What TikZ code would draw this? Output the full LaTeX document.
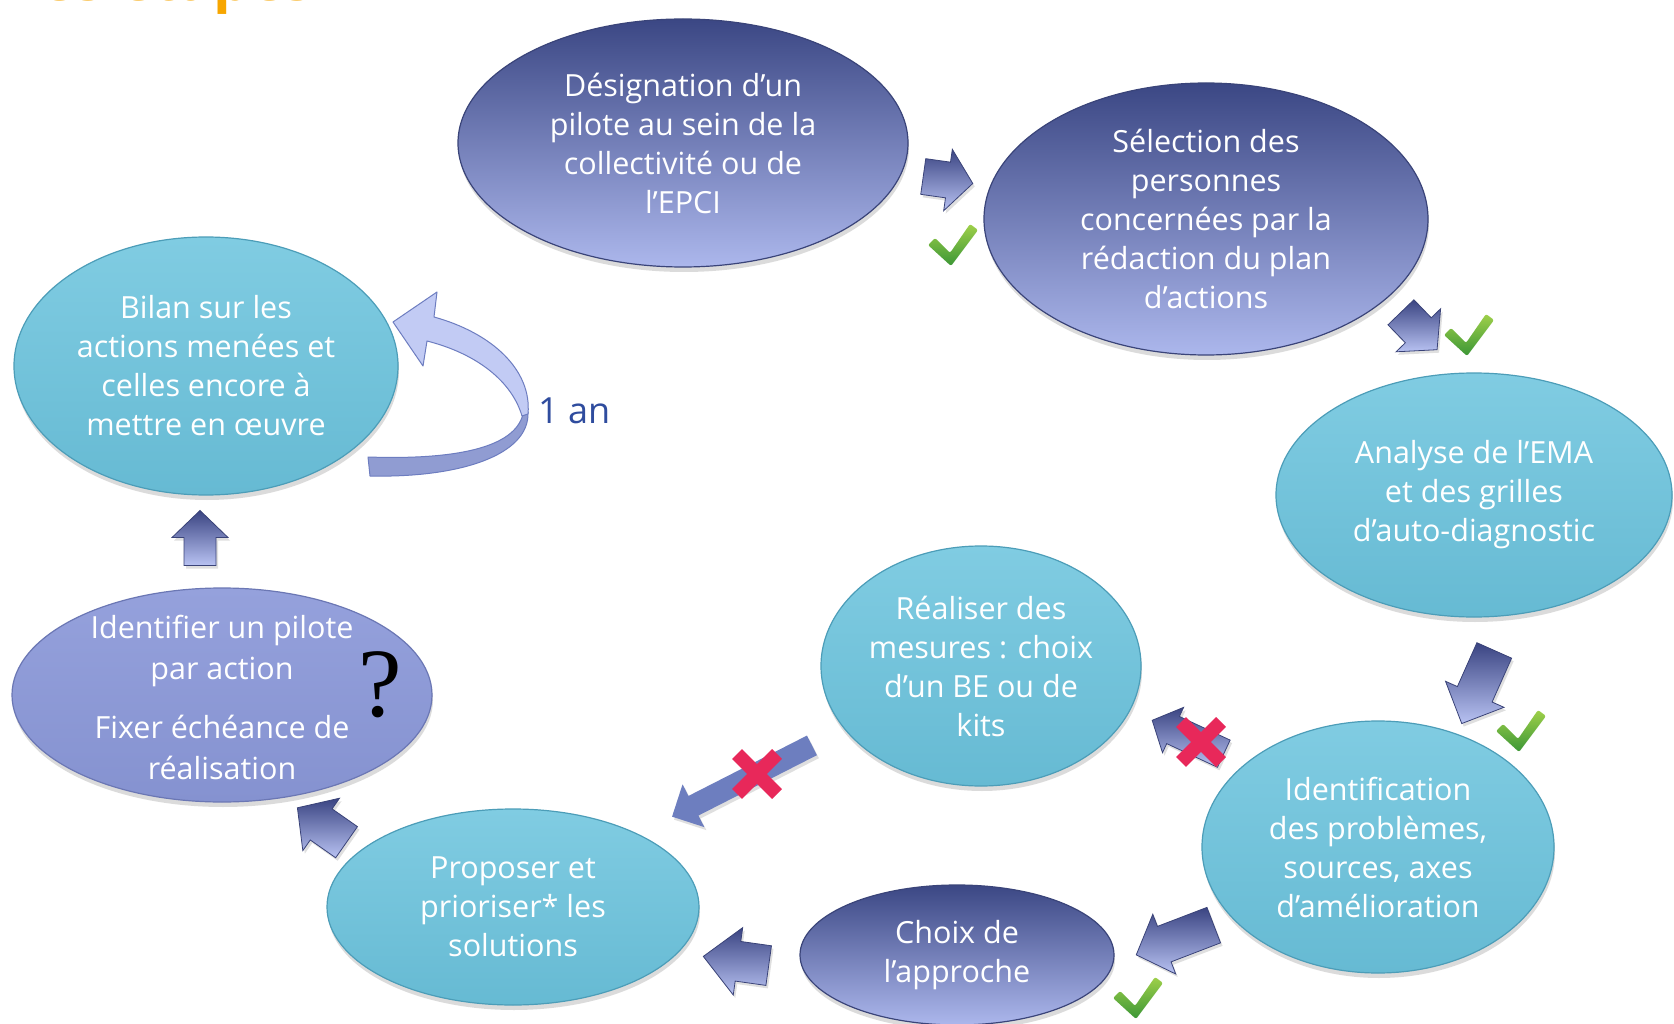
\documentclass[tikz,border=0pt]{standalone}
\usepackage{fontspec}
\setmainfont{Open Sans}
\newfontfamily\serifq{Liberation Serif}
\usetikzlibrary{shapes.geometric,shadows}

\definecolor{pTop}{HTML}{3B4784}
\definecolor{pMid}{HTML}{6F7DC0}
\definecolor{pBot}{HTML}{ACB7EC}
\definecolor{pEdge}{HTML}{3A4479}
\definecolor{tTop}{HTML}{80CCE2}
\definecolor{tBot}{HTML}{66BAD3}
\definecolor{tEdge}{HTML}{4C9DB8}
\definecolor{lTop}{HTML}{95A1DC}
\definecolor{lBot}{HTML}{8592D0}
\definecolor{lEdge}{HTML}{6B77B4}
\definecolor{aTop}{HTML}{3A4482}
\definecolor{aBot}{HTML}{B8C2F2}
\definecolor{aEdge}{HTML}{3A4378}
\definecolor{flatA}{HTML}{6D7EBF}
\definecolor{cTop}{HTML}{9FD04A}
\definecolor{cBot}{HTML}{3B9636}
\definecolor{redX}{HTML}{E8285A}
\definecolor{anBlue}{HTML}{2F4C9E}
\definecolor{cvUp}{HTML}{C2CBF4}
\definecolor{cvLow}{HTML}{909CD2}
\definecolor{cvEdge}{HTML}{6D7DC0}
\definecolor{titleOr}{HTML}{F7A600}

\newcommand\blockarrow[8]{%
  \begin{scope}[shift={(#1,#2)},rotate=#3]
    \path[#8] ({-(#4)/2},-#5) -- ({(#4)/2-(#7)},-#5) -- ({(#4)/2-(#7)},-#6)
      -- ({(#4)/2},0) -- ({(#4)/2-(#7)},#6) -- ({(#4)/2-(#7)},#5)
      -- ({-(#4)/2},#5) -- cycle;
  \end{scope}}
\newcommand\greencheck[2]{%
  \path[checkstyle,shift={(#1,#2)}] (-22,-17) -- (-15,-24) -- (0,-9)
    -- (20,-38) -- (28,-32) -- (1,4) -- cycle;}

\tikzset{
  blobbase/.style={ellipse, inner sep=0pt,
    drop shadow={opacity=0.28, shadow xshift=1pt, shadow yshift=-5pt}},
  purpleblob/.style={blobbase, top color=pTop, middle color=pMid, bottom color=pBot,
    draw=pEdge, line width=1.2pt},
  tealblob/.style={blobbase, top color=tTop, bottom color=tBot,
    draw=tEdge, line width=1.2pt},
  lavblob/.style={blobbase, top color=lTop, bottom color=lBot,
    draw=lEdge, line width=1.2pt},
  steptext/.style={align=center, text=white, inner sep=0pt,
    font=\fontsize{30.5}{39}\selectfont},
  bevelarrow/.style={top color=aTop, bottom color=aBot, draw=aEdge, line width=0.8pt,
    drop shadow={opacity=0.25, shadow xshift=2pt, shadow yshift=-3pt}},
  flatarrow/.style={fill=flatA,
    drop shadow={opacity=0.25, shadow xshift=2pt, shadow yshift=-3pt}},
  checkstyle/.style={top color=cTop, bottom color=cBot, rounded corners=2pt},
  redx/.style={draw=redX, line width=14pt, line cap=butt},
  curvup/.style={fill=cvUp, draw=cvEdge, line width=1pt, line join=round},
  curvlow/.style={fill=cvLow, draw=cvEdge, line width=1pt, line join=round},
}

\begin{document}
\begin{tikzpicture}[x=1pt,y=-1pt]
\useasboundingbox (0,0) rectangle (1674,1024);
\clip (0,0) rectangle (1674,1024);
\fill[white] (0,0) rectangle (1674,1024);

% title (cut off at top, as in the reference)
\node[anchor=base west, inner sep=0pt, text=titleOr,
  font=\bfseries\fontsize{58}{58}\selectfont] (title) at (8,1) {Les étapes};

% ellipses
\node[purpleblob, minimum width=450, minimum height=248] (e1) at (683,143) {};
\node[purpleblob, minimum width=444, minimum height=272] (e2) at (1206,219) {};
\node[tealblob,   minimum width=396, minimum height=244] (e3) at (1474,495) {};
\node[tealblob,   minimum width=352, minimum height=252] (e4) at (1378,847) {};
\node[purpleblob, minimum width=314, minimum height=140] (e5) at (957,955) {};
\node[tealblob,   minimum width=320, minimum height=240] (e6) at (981,666) {};
\node[tealblob,   minimum width=372, minimum height=196] (e7) at (513,907) {};
\node[lavblob,    minimum width=420, minimum height=214] (e8) at (222,695) {};
\node[tealblob,   minimum width=384, minimum height=258] (e9) at (206,366) {};

% texts
\node[steptext] (t1) at (e1.center) {Désignation d’un\\pilote au sein de la\\collectivité ou de\\l’EPCI};
\node[steptext] (t2) at (e2.center) {Sélection des\\personnes\\concernées par la\\rédaction du plan\\d’actions};
\node[steptext] (t3) at (e3.center) {Analyse de l’EMA\\et des grilles\\d’auto-diagnostic};
\node[steptext] (t4) at (e4.center) {Identification\\des problèmes,\\sources, axes\\d’amélioration};
\node[steptext] (t5) at (e5.center) {Choix de\\l’approche};
\node[steptext] (t6) at (e6.center) {Réaliser des\\mesures : choix\\d’un BE ou de\\kits};
\node[steptext] (t7) at (e7.center) {Proposer et\\prioriser* les\\solutions};
\node[steptext, font=\fontsize{30.5}{41}\selectfont] (t8) at (222,697)
  {Identifier un pilote\\par action\\[18pt]Fixer échéance de\\réalisation};
\node[steptext] (t9) at (e9.center) {Bilan sur les\\actions menées et\\celles encore à\\mettre en œuvre};

\node[font=\serifq\fontsize{98}{98}\selectfont, inner sep=0pt] (q) at (380,685) {?};

% bevelled block arrows
\blockarrow{948}{180}{-8}{50}{18}{31}{25}{bevelarrow}
\blockarrow{1419}{331}{-46}{52}{18}{31}{27}{bevelarrow}
\blockarrow{1478}{687}{-114}{80}{19}{32}{32}{bevelarrow}
\blockarrow{1175}{940}{-159}{83}{19}{32}{30}{bevelarrow}
\blockarrow{736}{961}{172}{66}{20}{34}{35}{bevelarrow}
\blockarrow{322}{825}{145}{60}{19}{32}{29}{bevelarrow}
\blockarrow{200}{538}{90}{55}{16}{28}{27}{bevelarrow}
\blockarrow{1188}{737}{155}{79}{15}{25}{23}{bevelarrow}
\blockarrow{742}{781}{-153}{157}{11}{24}{24}{flatarrow}

% checks
\greencheck{950}{262}
\greencheck{1466}{352}
\greencheck{1518}{748}
\greencheck{1135}{1015}

% red crosses
\draw[redx] (1181,722) -- (1221,762) (1221,722) -- (1181,762);
\draw[redx] (737,754) -- (777,794) (777,754) -- (737,794);

% curved arrow "1 an"
\path[curvlow] (528,412) .. controls (530,455) and (460,478) .. (370,476)
  -- (368,457) .. controls (455,460) and (515,448) .. (523,414) -- cycle;
\path[curvup] (528,414) .. controls (532,370) and (492,333) .. (434,317)
  -- (437,292) -- (393,322) -- (423,366) -- (427,341)
  .. controls (478,354) and (512,382) .. (522,416) -- cycle;
\node[anchor=base west, inner sep=0pt, text=anBlue,
  font=\fontsize{36}{36}\selectfont] (an) at (538,423) {1 an};
\end{tikzpicture}
\end{document}
